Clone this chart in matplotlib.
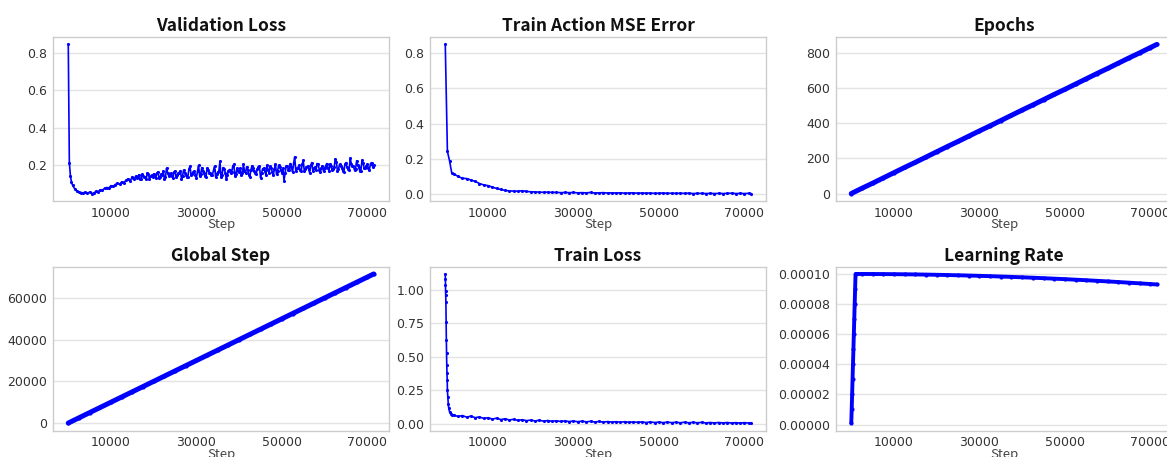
import matplotlib
matplotlib.use("Agg")
import matplotlib.pyplot as plt
from matplotlib.ticker import FormatStrFormatter, FixedLocator

# ---------------- data ----------------
x_ticks = [10000, 30000, 50000, 70000]

val_steps_main = [0, 250, 500, 750] + list(range(1000, 72000, 500))
val_loss_main = [0.845, 0.215, 0.145, 0.110,
                 0.095, 0.075, 0.062, 0.057, 0.055, 0.054, 0.056, 0.052, 0.058, 0.050,
                 0.053, 0.062, 0.060, 0.070, 0.068, 0.078, 0.082, 0.080, 0.092, 0.088,
                 0.098, 0.105, 0.100, 0.112, 0.108, 0.120, 0.128, 0.118, 0.140, 0.125,
                 0.135, 0.150, 0.128, 0.145, 0.138, 0.160, 0.130, 0.148, 0.155, 0.135,
                 0.165, 0.140, 0.150, 0.125, 0.185, 0.145, 0.158, 0.132, 0.170, 0.148,
                 0.162, 0.128, 0.175, 0.150, 0.140, 0.195, 0.155, 0.168, 0.135, 0.200,
                 0.152, 0.170, 0.142, 0.185, 0.160, 0.148, 0.175, 0.138, 0.165, 0.222,
                 0.150, 0.180, 0.125, 0.172, 0.158, 0.195, 0.145, 0.185, 0.165, 0.148,
                 0.205, 0.160, 0.178, 0.140, 0.198, 0.168, 0.155, 0.190, 0.135, 0.182,
                 0.170, 0.200, 0.158, 0.188, 0.148, 0.205, 0.172, 0.190, 0.160, 0.118,
                 0.195, 0.178, 0.210, 0.165, 0.245, 0.185, 0.200, 0.168, 0.228, 0.180,
                 0.195, 0.160, 0.215, 0.185, 0.175, 0.205, 0.165, 0.198, 0.185, 0.210,
                 0.172, 0.195, 0.180, 0.235, 0.170, 0.205, 0.188, 0.165, 0.215, 0.180,
                 0.238, 0.195, 0.175, 0.225, 0.190, 0.172, 0.212, 0.185, 0.205, 0.178,
                 0.215, 0.200]
# extra validation evaluations in between (steps 15250, 15750, ..., 71250)
val_steps_mid = list(range(15250, 71251, 500))
val_loss_mid = [0.132, 0.142, 0.138, 0.125, 0.152, 0.140, 0.128, 0.155, 0.142, 0.138,
                0.148, 0.160, 0.132, 0.152, 0.170, 0.138, 0.162, 0.150, 0.142, 0.165,
                0.140, 0.158, 0.172, 0.145, 0.160, 0.138, 0.182, 0.148, 0.165, 0.150,
                0.170, 0.145, 0.188, 0.158, 0.140, 0.178, 0.162, 0.150, 0.195, 0.155,
                0.170, 0.140, 0.188, 0.162, 0.150, 0.178, 0.165, 0.205, 0.152, 0.172,
                0.185, 0.158, 0.170, 0.192, 0.150, 0.175, 0.188, 0.162, 0.180, 0.198,
                0.160, 0.185, 0.150, 0.178, 0.195, 0.165, 0.182, 0.152, 0.200, 0.175,
                0.185, 0.160, 0.198, 0.175, 0.190, 0.212, 0.170, 0.188, 0.175, 0.205,
                0.168, 0.192, 0.182, 0.200, 0.172, 0.190, 0.210, 0.178, 0.185, 0.168,
                0.198, 0.185, 0.208, 0.175, 0.192, 0.220, 0.180, 0.198, 0.172, 0.205,
                0.190, 0.175, 0.210, 0.195, 0.182, 0.200, 0.170, 0.228, 0.188, 0.198,
                0.185, 0.210, 0.192]

mse_steps = [0, 500, 1000, 1500] + list(range(2000, 71001, 1000)) + [71500]
mse_error = [0.850, 0.242, 0.189, 0.122,
             0.115, 0.100, 0.090, 0.088, 0.080, 0.072, 0.060, 0.052, 0.048, 0.040,
             0.032, 0.026, 0.021, 0.018, 0.017, 0.016, 0.019, 0.015, 0.013, 0.012,
             0.011, 0.010, 0.011, 0.009, 0.010, 0.008, 0.009, 0.008, 0.009, 0.007,
             0.008, 0.007, 0.009, 0.006, 0.007, 0.008, 0.006, 0.007, 0.006, 0.007,
             0.005, 0.006, 0.007, 0.005, 0.006, 0.005, 0.006, 0.004, 0.005, 0.006,
             0.004, 0.005, 0.004, 0.005, 0.004, 0.005, 0.003, 0.004, 0.004, 0.003,
             0.004, 0.003, 0.004, 0.003, 0.004, 0.005, 0.003, 0.004, 0.003, 0.004,
             0.003]

lin_steps = [0, 2500, 5000, 7500, 10000, 12500, 15000, 17500, 20000, 22500,
             25000, 27500, 30000, 32500, 35000, 37500, 40000, 42500, 45000, 47500,
             50000, 52500, 55000, 57500, 60000, 62500, 65000, 67500, 70000, 71500]
epochs = [0, 30, 59, 89, 119, 149, 178, 208, 238, 268,
          297, 327, 357, 386, 416, 446, 476, 505, 535, 565,
          594, 624, 654, 684, 713, 743, 773, 802, 832, 850]
global_step = [0, 2500, 5000, 7500, 10000, 12500, 15000, 17500, 20000, 22500,
               25000, 27500, 30000, 32500, 35000, 37500, 40000, 42500, 45000, 47500,
               50000, 52500, 55000, 57500, 60000, 62500, 65000, 67500, 70000, 71500]

tl_steps = [0, 25, 50, 75, 100, 150, 200, 250, 300, 350, 400, 450, 500, 600, 700,
            800, 1000, 1250, 1500] + list(range(2000, 71001, 1000)) + [71500]
train_loss = [1.12, 1.08, 1.04, 0.99, 0.96, 0.91, 0.76, 0.63, 0.53, 0.44, 0.38, 0.33,
              0.25, 0.20, 0.15, 0.12, 0.09, 0.075, 0.068,
              0.065, 0.055, 0.062, 0.050, 0.058, 0.046, 0.052, 0.040, 0.046, 0.036,
              0.042, 0.032, 0.038, 0.029, 0.034, 0.026, 0.031, 0.024, 0.028, 0.022,
              0.027, 0.020, 0.025, 0.019, 0.023, 0.018, 0.022, 0.017, 0.021, 0.016,
              0.020, 0.015, 0.019, 0.014, 0.018, 0.013, 0.017, 0.013, 0.016, 0.012,
              0.016, 0.011, 0.015, 0.011, 0.014, 0.010, 0.014, 0.010, 0.013, 0.009,
              0.013, 0.009, 0.012, 0.008, 0.012, 0.008, 0.011, 0.008, 0.011, 0.007,
              0.010, 0.007, 0.010, 0.007, 0.010, 0.006, 0.009, 0.006, 0.009, 0.006,
              0.008]

lr_steps = [0, 100, 200, 300, 400, 500, 600, 700, 800, 900, 1000,
            2500, 5000, 7500, 10000, 12500, 15000, 17500, 20000, 22500,
            25000, 27500, 30000, 32500, 35000, 37500, 40000, 42500, 45000, 47500,
            50000, 52500, 55000, 57500, 60000, 62500, 65000, 67500, 70000, 71500]
learning_rate = [0.000001, 0.00001, 0.00002, 0.00003, 0.00004, 0.00005, 0.00006,
                 0.00007, 0.00008, 0.00009, 0.00010,
                 0.000099991, 0.000099965, 0.000099921, 0.000099860, 0.000099782,
                 0.000099686, 0.000099573, 0.000099442, 0.000099294, 0.000099129,
                 0.000098947, 0.000098746, 0.000098531, 0.000098296, 0.000098046,
                 0.000097778, 0.000097494, 0.000097194, 0.000096876, 0.000096543,
                 0.000096194, 0.000095827, 0.000095446, 0.000095048, 0.000094634,
                 0.000094206, 0.000093761, 0.000093301, 0.000093020]

titles = ["Validation Loss", "Train Action MSE Error", "Epochs",
          "Global Step", "Train Loss", "Learning Rate"]
y_ticks = [[0.2, 0.4, 0.6, 0.8],
           [0.0, 0.2, 0.4, 0.6, 0.8],
           [0, 200, 400, 600, 800],
           [0, 20000, 40000, 60000],
           [0.00, 0.25, 0.50, 0.75, 1.00],
           [0.0, 0.00002, 0.00004, 0.00006, 0.00008, 0.00010]]
y_fmt = ["%.1f", "%.1f", "%d", "%d", "%.2f", "%.5f"]

# merge validation evaluations in step order
_val = sorted(zip(val_steps_main + val_steps_mid, val_loss_main + val_loss_mid))
val_steps = [s for s, _ in _val]
val_loss = [v for _, v in _val]

series = [(val_steps, val_loss, "val"), (mse_steps, mse_error, "thin"),
          (lin_steps, epochs, "thick"), (lin_steps, global_step, "thick"),
          (tl_steps, train_loss, "thin"), (lr_steps, learning_rate, "lr")]

# ---------------- layout ----------------
W, H = 1167, 457
fig = plt.figure(figsize=(W / 100, H / 100), dpi=100)
fig.patch.set_facecolor("white")

col_left = [53, 430, 836]
row_top = [37, 266.5]
ax_w, ax_h = 336, 164

title_font = ["Noto Sans CJK KR", "DejaVu Sans"]
BLUE = "#0000ff"

for i, (xs, ys, kind) in enumerate(series):
    r, c = divmod(i, 3)
    left = col_left[c] / W
    bottom = 1 - (row_top[r] + ax_h) / H
    ax = fig.add_axes([left, bottom, ax_w / W, ax_h / H])
    if kind == "val":
        ax.plot(xs, ys, color=BLUE, lw=1.2, marker=".", ms=4.5, mew=0)
    elif kind == "thin":
        ax.plot(xs, ys, color=BLUE, lw=1.2, marker=".", ms=4.5, mew=0)
    elif kind == "lr":
        ax.plot(xs, ys, color=BLUE, lw=2.8, marker=".", ms=6, mew=0,
                solid_capstyle="round")
    else:
        ax.plot(xs, ys, color=BLUE, lw=3.6, marker=".", ms=6, mew=0,
                solid_capstyle="round")
    ax.set_title(titles[i], fontsize=12.5, fontweight="bold",
                 family=title_font, pad=4, color="#111111")
    ax.set_xlabel("Step", fontsize=9.5, family=title_font, color="#444444",
                  labelpad=-1)
    ax.xaxis.set_major_locator(FixedLocator(x_ticks))
    ax.yaxis.set_major_locator(FixedLocator(y_ticks[i]))
    ax.yaxis.set_major_formatter(FormatStrFormatter(y_fmt[i]))
    ax.grid(axis="y", color="#e3e3e3", lw=1.0)
    ax.set_axisbelow(True)
    ax.tick_params(length=0, labelsize=9, colors="#333333", pad=4)
    for s in ax.spines.values():
        s.set_color("#cccccc")
        s.set_linewidth(1.0)

fig.savefig("out.png", dpi=100, facecolor="white")
